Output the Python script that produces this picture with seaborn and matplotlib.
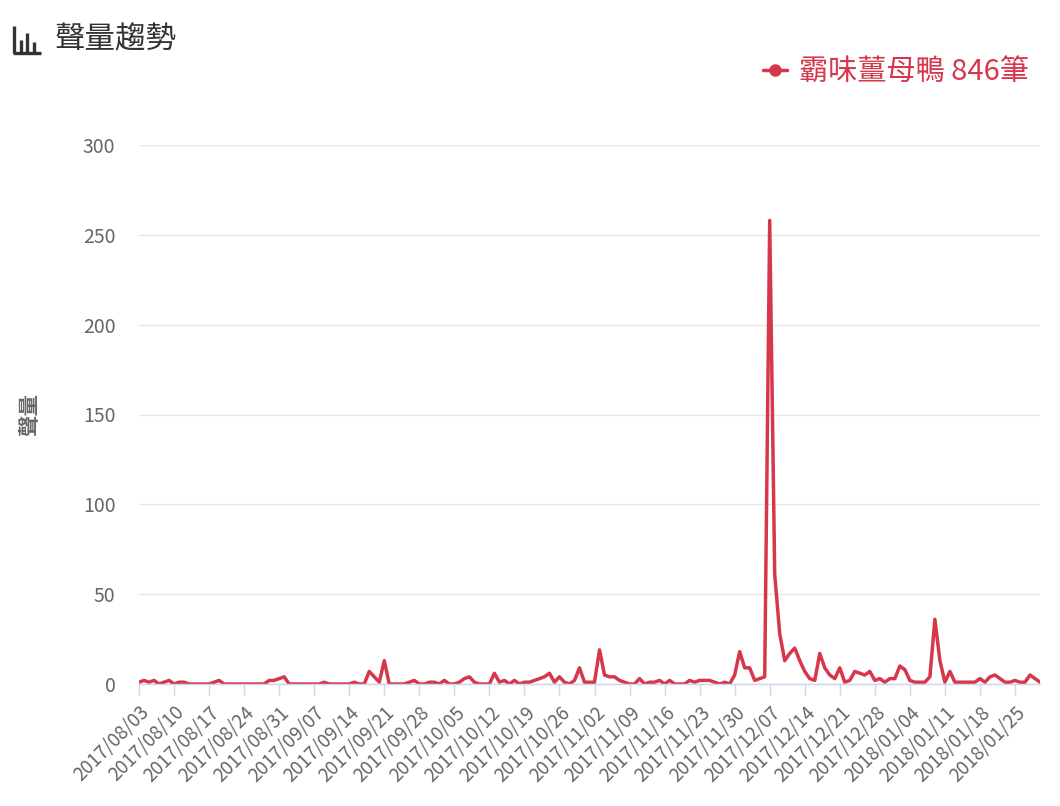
import matplotlib
matplotlib.use("Agg")
import matplotlib.pyplot as plt
from matplotlib.lines import Line2D
import numpy as np
import pandas as pd
import seaborn as sns

# ---------------- data ----------------
start_date = "2017-08-03"
counts = [
    1, 2, 1, 2, 0, 1, 2, 0, 1, 1,
    0, 0, 0, 0, 0, 1, 2, 0, 0, 0,
    0, 0, 0, 0, 0, 0, 2, 2, 3, 4,
    0, 0, 0, 0, 0, 0, 0, 1, 0, 0,
    0, 0, 0, 1, 0, 0, 7, 4, 1, 13,
    0, 0, 0, 0, 1, 2, 0, 0, 1, 1,
    0, 2, 0, 0, 1, 3, 4, 1, 0, 0,
    0, 6, 1, 2, 0, 2, 0, 1, 1, 2,
    3, 4, 6, 1, 4, 1, 0, 2, 9, 1,
    1, 1, 19, 5, 4, 4, 2, 1, 0, 0,
    3, 0, 1, 1, 2, 0, 2, 0, 0, 0,
    2, 1, 2, 2, 2, 1, 0, 1, 0, 5,
    18, 9, 9, 2, 3, 4, 258, 61, 28, 13,
    17, 20, 13, 7, 3, 2, 17, 9, 5, 3,
    9, 1, 2, 7, 6, 5, 7, 2, 3, 1,
    3, 3, 10, 8, 2, 1, 1, 1, 4, 36,
    13, 1, 7, 1, 1, 1, 1, 1, 3, 1,
    4, 5, 3, 1, 1, 2, 1, 1, 5, 3, 1,
]
series_name = "霸味薑母鴨"
count_unit = "筆"
title_text = "聲量趨勢"
y_label = "聲量"
y_ticks = [0, 50, 100, 150, 200, 250, 300]
tick_every_days = 7

dates = pd.date_range(start_date, periods=len(counts), freq="D")
df = pd.DataFrame({"date": dates, "count": counts})
total = int(np.sum(counts))

# ---------------- style ----------------
sns.set_theme(style="white")
plt.rcParams["font.family"] = ["Noto Sans CJK TC", "DejaVu Sans"]

W, H = 1060, 806
fig = plt.figure(figsize=(W / 100, H / 100), dpi=100)
ax_left, ax_right, ax_top, ax_bottom = 139, 1040, 145, 684
ax = fig.add_axes([ax_left / W, (H - ax_bottom) / H,
                   (ax_right - ax_left) / W, (ax_bottom - ax_top) / H])

line_color = "#d7374b"
sns.lineplot(data=df, x="date", y="count", ax=ax, color=line_color,
             linewidth=2.5, legend=False)

ax.set_xlim(dates[0], dates[-1])
ax.set_ylim(y_ticks[0], y_ticks[-1])
ax.set_yticks(y_ticks)
ax.set_yticklabels([str(v) for v in y_ticks], fontsize=14, color="#666666")
ax.tick_params(axis="y", length=0, pad=17)

xt = dates[::tick_every_days]
ax.set_xticks(xt)
ax.set_xticklabels([d.strftime("%Y/%m/%d") for d in xt], rotation=45,
                   ha="right", va="top", rotation_mode="anchor",
                   fontsize=13.5, color="#666666")
ax.tick_params(axis="x", length=8, width=1, color="#ccd6eb", pad=5,
               direction="out", bottom=True)

ax.yaxis.grid(True, color="#e6e6e6", linewidth=1)
ax.xaxis.grid(False)
for s in ["top", "right", "left"]:
    ax.spines[s].set_visible(False)
ax.spines["bottom"].set_color("#ccd6eb")
ax.spines["bottom"].set_linewidth(1)

ax.set_xlabel("")
ax.set_ylabel(y_label, fontsize=15.5, color="#666666", fontweight="bold")
ax.yaxis.set_label_coords((40 - ax_left) / (ax_right - ax_left), 0.5)

# title and icon
fig.text(55 / W, 1 - 40 / H, title_text, fontsize=22, color="#333333",
         ha="left", va="center")

def px(x, y):
    return x / W, 1 - y / H

icon_segments = [
    ((14, 26), (14, 53)),
    ((13, 52.5), (41, 52.5)),
    ((20.5, 40), (20.5, 52)),
    ((27, 33), (27, 52)),
    ((33.5, 42), (33.5, 52)),
]
for (x0, y0), (x1, y1) in icon_segments:
    a, b = px(x0, y0)
    c, d = px(x1, y1)
    fig.add_artist(Line2D([a, c], [b, d], transform=fig.transFigure,
                          color="#333333", linewidth=2.4,
                          solid_capstyle="butt"))

# legend
handle = Line2D([], [], color=line_color, linewidth=2.5, marker="o",
                markersize=8)
leg = fig.legend([handle], [f"{series_name} {total}{count_unit}"],
                 loc="center right", bbox_to_anchor=(1029 / W, 1 - 72 / H),
                 frameon=False, fontsize=21, handlelength=0.85,
                 handletextpad=0.4, borderpad=0, borderaxespad=0)
for t in leg.get_texts():
    t.set_color(line_color)

fig.savefig("out.png", dpi=100)
